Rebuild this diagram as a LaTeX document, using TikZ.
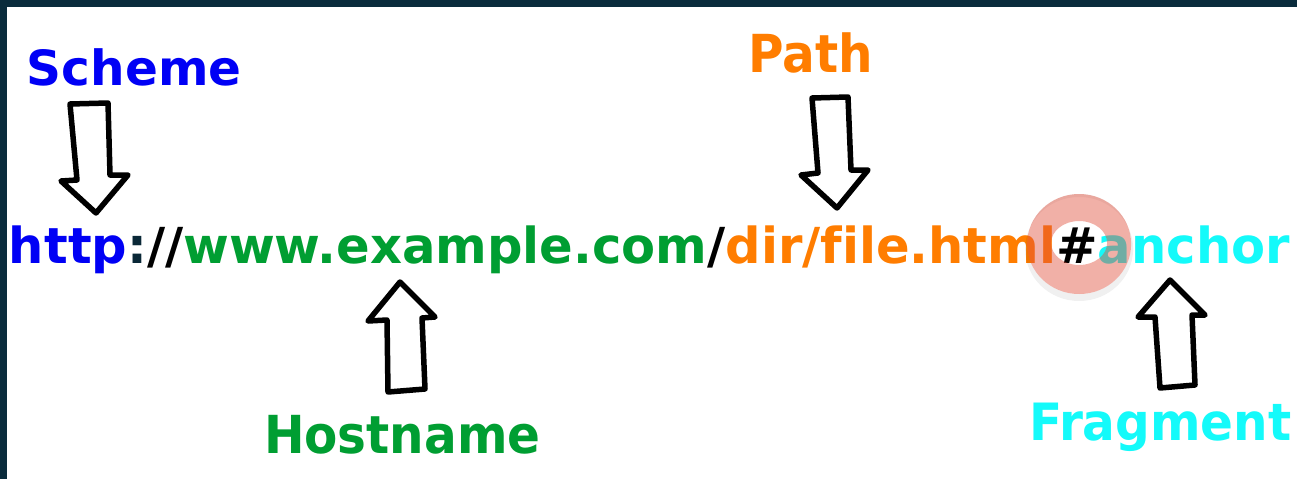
\documentclass[tikz,border=0pt]{standalone}
\usepackage{fontspec}
\setmainfont{DejaVu Sans}[Ligatures={CommonOff}]
\usetikzlibrary{calc}
\definecolor{bordercol}{RGB}{10,44,60}
\definecolor{schemeblue}{RGB}{0,0,245}
\definecolor{hostgreen}{RGB}{0,158,50}
\definecolor{pathorange}{RGB}{255,125,0}
\definecolor{fragcyan}{RGB}{20,250,250}
\definecolor{ringred}{RGB}{226,80,60}
\definecolor{coloncol}{RGB}{10,40,55}
\begin{document}
\begin{tikzpicture}[x=1pt,y=-1pt,
  url/.style={inner sep=0pt, outer sep=0pt, anchor=base west, font=\fontsize{49.6}{56}\selectfont\bfseries},
  lbl/.style={inner sep=0pt, outer sep=0pt, anchor=base west, font=\fontsize{48.5}{54}\selectfont\bfseries},
  blockarrow/.style={draw=black, fill=white, line width=5.5pt, line join=round}]
\useasboundingbox (0,0) rectangle (1297,479);
\clip (0,0) rectangle (1297,479);
\fill[white] (0,0) rectangle (1297,479);
\fill[bordercol] (0,0) rectangle (1297,7);
\fill[bordercol] (0,0) rectangle (7,479);

% URL
\node[url, text=schemeblue] (scheme) at (9,263) {http};
\node[url, text=coloncol] (colon) at (scheme.base east) {:};
\node[url, text=black] (slashes) at (colon.base east) {//};
\node[url, text=hostgreen] (host) at (slashes.base east) {www.example.com};
\node[url, text=black] (slash) at (host.base east) {/};
\node[url, text=pathorange] (path) at (slash.base east) {dir/f{}ile.html};
\node[url, text=black] (hash) at (path.base east) {\#};
\node[url, text=fragcyan] (frag) at (hash.base east) {anchor};

% labels
\node[lbl, text=schemeblue] (schemelbl) at (27,85) {Scheme};
\node[lbl, text=pathorange] (pathlbl) at (748,72) {\scalebox{1}[1.08]{Path}};
\node[lbl, text=hostgreen] (hostlbl) at (264,453) {\scalebox{1}[1.08]{Hostname}};
\node[lbl, text=fragcyan] (fraglbl) at (1029,440) {\scalebox{1}[1.06]{Fragment}};

% block arrows
\draw[blockarrow] (70,104) -- (108,103) -- (110,175) -- (128,175) -- (96,213) -- (61,181) -- (77,180) -- cycle;
\draw[blockarrow] (812,98) -- (848,97) -- (851,170) -- (868,170) -- (837,208) -- (801,175) -- (818,173) -- cycle;
\draw[blockarrow] (400,282) -- (435,317) -- (422,318) -- (425,389) -- (388,392) -- (387,320) -- (368,321) -- cycle;
\draw[blockarrow] (1170,280) -- (1205,315) -- (1192,315) -- (1195,385) -- (1160,388) -- (1155,317) -- (1138,317) -- cycle;

% highlight ring around #
\coordinate (ringc) at ($(hash.base)+(2,-19)$);
\fill[black, opacity=.06, even odd rule] ($(ringc)+(0,5)$) ellipse [x radius=54, y radius=52] (ringc) ellipse [x radius=52, y radius=50];
\fill[ringred, opacity=.45, even odd rule] (ringc) ellipse [x radius=52, y radius=50] ($(ringc)+(0,-1)$) ellipse [x radius=28, y radius=22];
\end{tikzpicture}
\end{document}
